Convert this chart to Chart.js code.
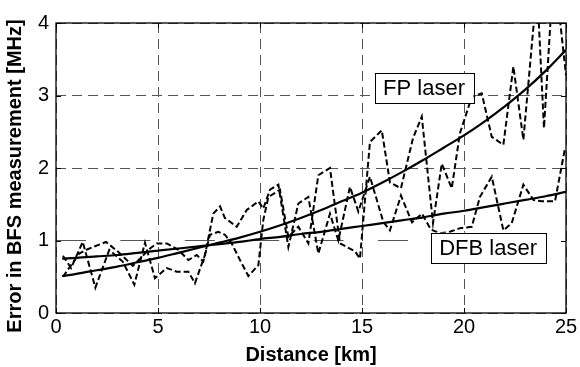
<!DOCTYPE html>
<html>
<head>
<meta charset="utf-8">
<script src="https://cdn.jsdelivr.net/npm/chart.js@4.4.1/dist/chart.umd.min.js"></script>
<style>
  html, body { margin: 0; padding: 0; background: #fff; }
  #wrap { width: 580px; height: 367px; position: relative; }
</style>
</head>
<body>
<div id="wrap"><canvas id="c" width="580" height="367"></canvas></div>
<script>
// ---- data ----
const fpDistance  = [0.34,1.14,1.55,2.45,3.02,3.77,4.61,4.94,5.43,6.00,6.49,6.90,7.22,7.55,7.96,8.28,8.61,9.02,9.43,9.92,10.16,10.41,10.98,11.39,11.88,12.37,12.86,13.43,13.92,14.26,14.66,14.90,15.39,15.97,16.37,16.91,17.50,17.93,18.48,18.91,19.40,19.80,20.38,20.87,21.36,21.93,22.42,22.91,23.58,23.92,24.41,25.00];
const fpMeasured  = [0.50,0.82,0.88,0.98,0.85,0.65,0.89,0.96,0.96,0.87,0.73,0.80,0.71,1.08,1.12,1.08,0.96,0.73,0.51,0.66,1.28,1.60,1.70,1.05,1.19,0.96,1.90,2.00,0.96,0.91,0.85,0.75,2.36,2.52,1.80,1.72,2.41,2.71,1.24,2.06,1.72,2.48,2.98,3.03,2.43,2.32,3.40,2.39,4.50,2.55,4.80,3.28];
const dfbDistance = [0.34,0.74,1.31,1.93,2.61,3.27,3.84,4.36,4.85,5.43,5.92,6.49,6.81,7.30,7.71,8.04,8.28,8.86,9.35,9.92,10.16,10.49,10.90,11.39,11.88,12.37,12.86,13.43,13.84,14.41,14.82,15.39,16.04,16.37,16.91,17.45,17.94,18.38,18.82,19.31,19.80,20.38,20.78,21.36,21.93,22.34,22.91,23.40,23.81,24.46,24.95];
const dfbMeasured = [0.79,0.62,0.98,0.35,0.87,0.71,0.39,0.97,0.48,0.62,0.57,0.57,0.41,0.80,1.37,1.47,1.31,1.19,1.42,1.54,1.44,1.70,1.77,0.91,1.51,1.60,0.82,1.37,1.00,1.74,1.40,1.88,1.26,1.14,1.62,1.25,1.37,1.15,1.10,1.12,1.17,1.19,1.60,1.88,1.14,1.24,1.77,1.56,1.54,1.54,2.27];
const fitDistance = [0.3,1,2,3,4,5,6,7,8,9,10,11,12,13,14,15,16,17,18,19,20,21,22,23,24,25];
const fpFit       = [0.51,0.54,0.59,0.64,0.70,0.76,0.83,0.90,0.97,1.04,1.12,1.21,1.31,1.42,1.54,1.66,1.80,1.95,2.11,2.28,2.45,2.64,2.85,3.08,3.34,3.63];
const dfbFit      = [0.75,0.76,0.78,0.80,0.83,0.86,0.89,0.92,0.95,0.98,1.02,1.05,1.09,1.12,1.16,1.20,1.24,1.28,1.32,1.37,1.41,1.46,1.51,1.56,1.61,1.67];
const xTicks = [0,5,10,15,20,25];
const yTicks = [0,1,2,3,4];
const xTitle = 'Distance [km]';
const yTitle = 'Error in BFS measurement [MHz]';
const labelTexts = ['FP laser', 'DFB laser'];
const labelAnchors = [[18.04, 3.10], [21.18, 0.90]];

const FONT = "'Liberation Sans', Arial, Helvetica, sans-serif";
const pts = (xs, ys) => xs.map((x, i) => ({x, y: ys[i]}));

const framePlugin = {
  id: 'frame',
  afterDatasetsDraw(chart) {
    const {ctx, chartArea: a, scales: {x, y}} = chart;
    ctx.save();
    // inward tick marks
    ctx.strokeStyle = '#000';
    ctx.lineWidth = 1;
    ctx.setLineDash([]);
    ctx.beginPath();
    xTicks.forEach(v => {
      const px = Math.round(x.getPixelForValue(v)) + 0.5;
      ctx.moveTo(px, a.bottom); ctx.lineTo(px, a.bottom - 5);
      ctx.moveTo(px, a.top); ctx.lineTo(px, a.top + 5);
    });
    yTicks.forEach(v => {
      const py = Math.round(y.getPixelForValue(v)) + 0.5;
      ctx.moveTo(a.left, py); ctx.lineTo(a.left + 5, py);
      ctx.moveTo(a.right, py); ctx.lineTo(a.right - 5, py);
    });
    ctx.stroke();
    // frame
    ctx.lineWidth = 1.3;
    ctx.strokeRect(a.left, a.top, a.right - a.left, a.bottom - a.top);
    // text boxes
    ctx.font = '22px ' + FONT;
    ctx.textAlign = 'center';
    ctx.textBaseline = 'middle';
    labelTexts.forEach((t, i) => {
      const cx = x.getPixelForValue(labelAnchors[i][0]);
      const cy = y.getPixelForValue(labelAnchors[i][1]);
      const w = ctx.measureText(t).width + 17;
      const h = 30;
      ctx.fillStyle = '#fff';
      ctx.fillRect(cx - w / 2, cy - h / 2, w, h);
      ctx.lineWidth = 1;
      ctx.strokeStyle = '#000';
      ctx.strokeRect(Math.round(cx - w / 2) + 0.5, Math.round(cy - h / 2) + 0.5, Math.round(w), h);
      ctx.fillStyle = '#000';
      ctx.fillText(t, cx, cy + 1);
    });
    // y title
    ctx.translate(15, (a.top + a.bottom) / 2 + 8);
    ctx.rotate(-Math.PI / 2);
    ctx.font = 'bold 20px ' + FONT;
    ctx.fillText(yTitle, 0, 0);
    ctx.restore();
  }
};

new Chart(document.getElementById('c'), {
  type: 'line',
  data: {
    datasets: [
      { label: 'FP laser (measured)', data: pts(fpDistance, fpMeasured), borderColor: '#000', borderWidth: 2, borderDash: [6, 3], pointRadius: 0, fill: false, clip: 0 },
      { label: 'DFB laser (measured)', data: pts(dfbDistance, dfbMeasured), borderColor: '#000', borderWidth: 2, borderDash: [6, 3], pointRadius: 0, fill: false, clip: 0 },
      { label: 'FP laser (fit)', data: pts(fitDistance, fpFit), borderColor: '#000', borderWidth: 2.2, pointRadius: 0, fill: false, cubicInterpolationMode: 'monotone', clip: 0 },
      { label: 'DFB laser (fit)', data: pts(fitDistance, dfbFit), borderColor: '#000', borderWidth: 2.2, pointRadius: 0, fill: false, cubicInterpolationMode: 'monotone', clip: 0 }
    ]
  },
  options: {
    responsive: false,
    animation: false,
    layout: { padding: { top: 23, right: 14, left: 0, bottom: 0 } },
    plugins: { legend: { display: false }, tooltip: { enabled: false } },
    scales: {
      x: {
        type: 'linear', min: 0, max: 25,
        afterBuildTicks: s => { s.ticks = xTicks.map(v => ({value: v})); },
        afterFit: s => { s.height = 54; },
        ticks: { color: '#000', font: { family: FONT, size: 20 }, padding: 2, maxRotation: 0 },
        grid: { color: '#555', lineWidth: 1, drawTicks: false },
        border: { display: false, dash: [10, 6] },
        title: { display: true, text: xTitle, color: '#000', font: { family: FONT, size: 20, weight: 'bold', lineHeight: 1 }, padding: { top: 0, bottom: 2 } }
      },
      y: {
        type: 'linear', min: 0, max: 4,
        afterBuildTicks: s => { s.ticks = yTicks.map(v => ({value: v})); },
        afterFit: s => { s.width = 56; },
        ticks: { color: '#000', font: { family: FONT, size: 20 }, padding: 7 },
        grid: { color: '#555', lineWidth: 1, drawTicks: false },
        border: { display: false, dash: ctx => (ctx.tick && ctx.tick.value === 1) ? [30, 34.4] : [10, 6] }
      }
    }
  },
  plugins: [framePlugin]
});
</script>
</body>
</html>
